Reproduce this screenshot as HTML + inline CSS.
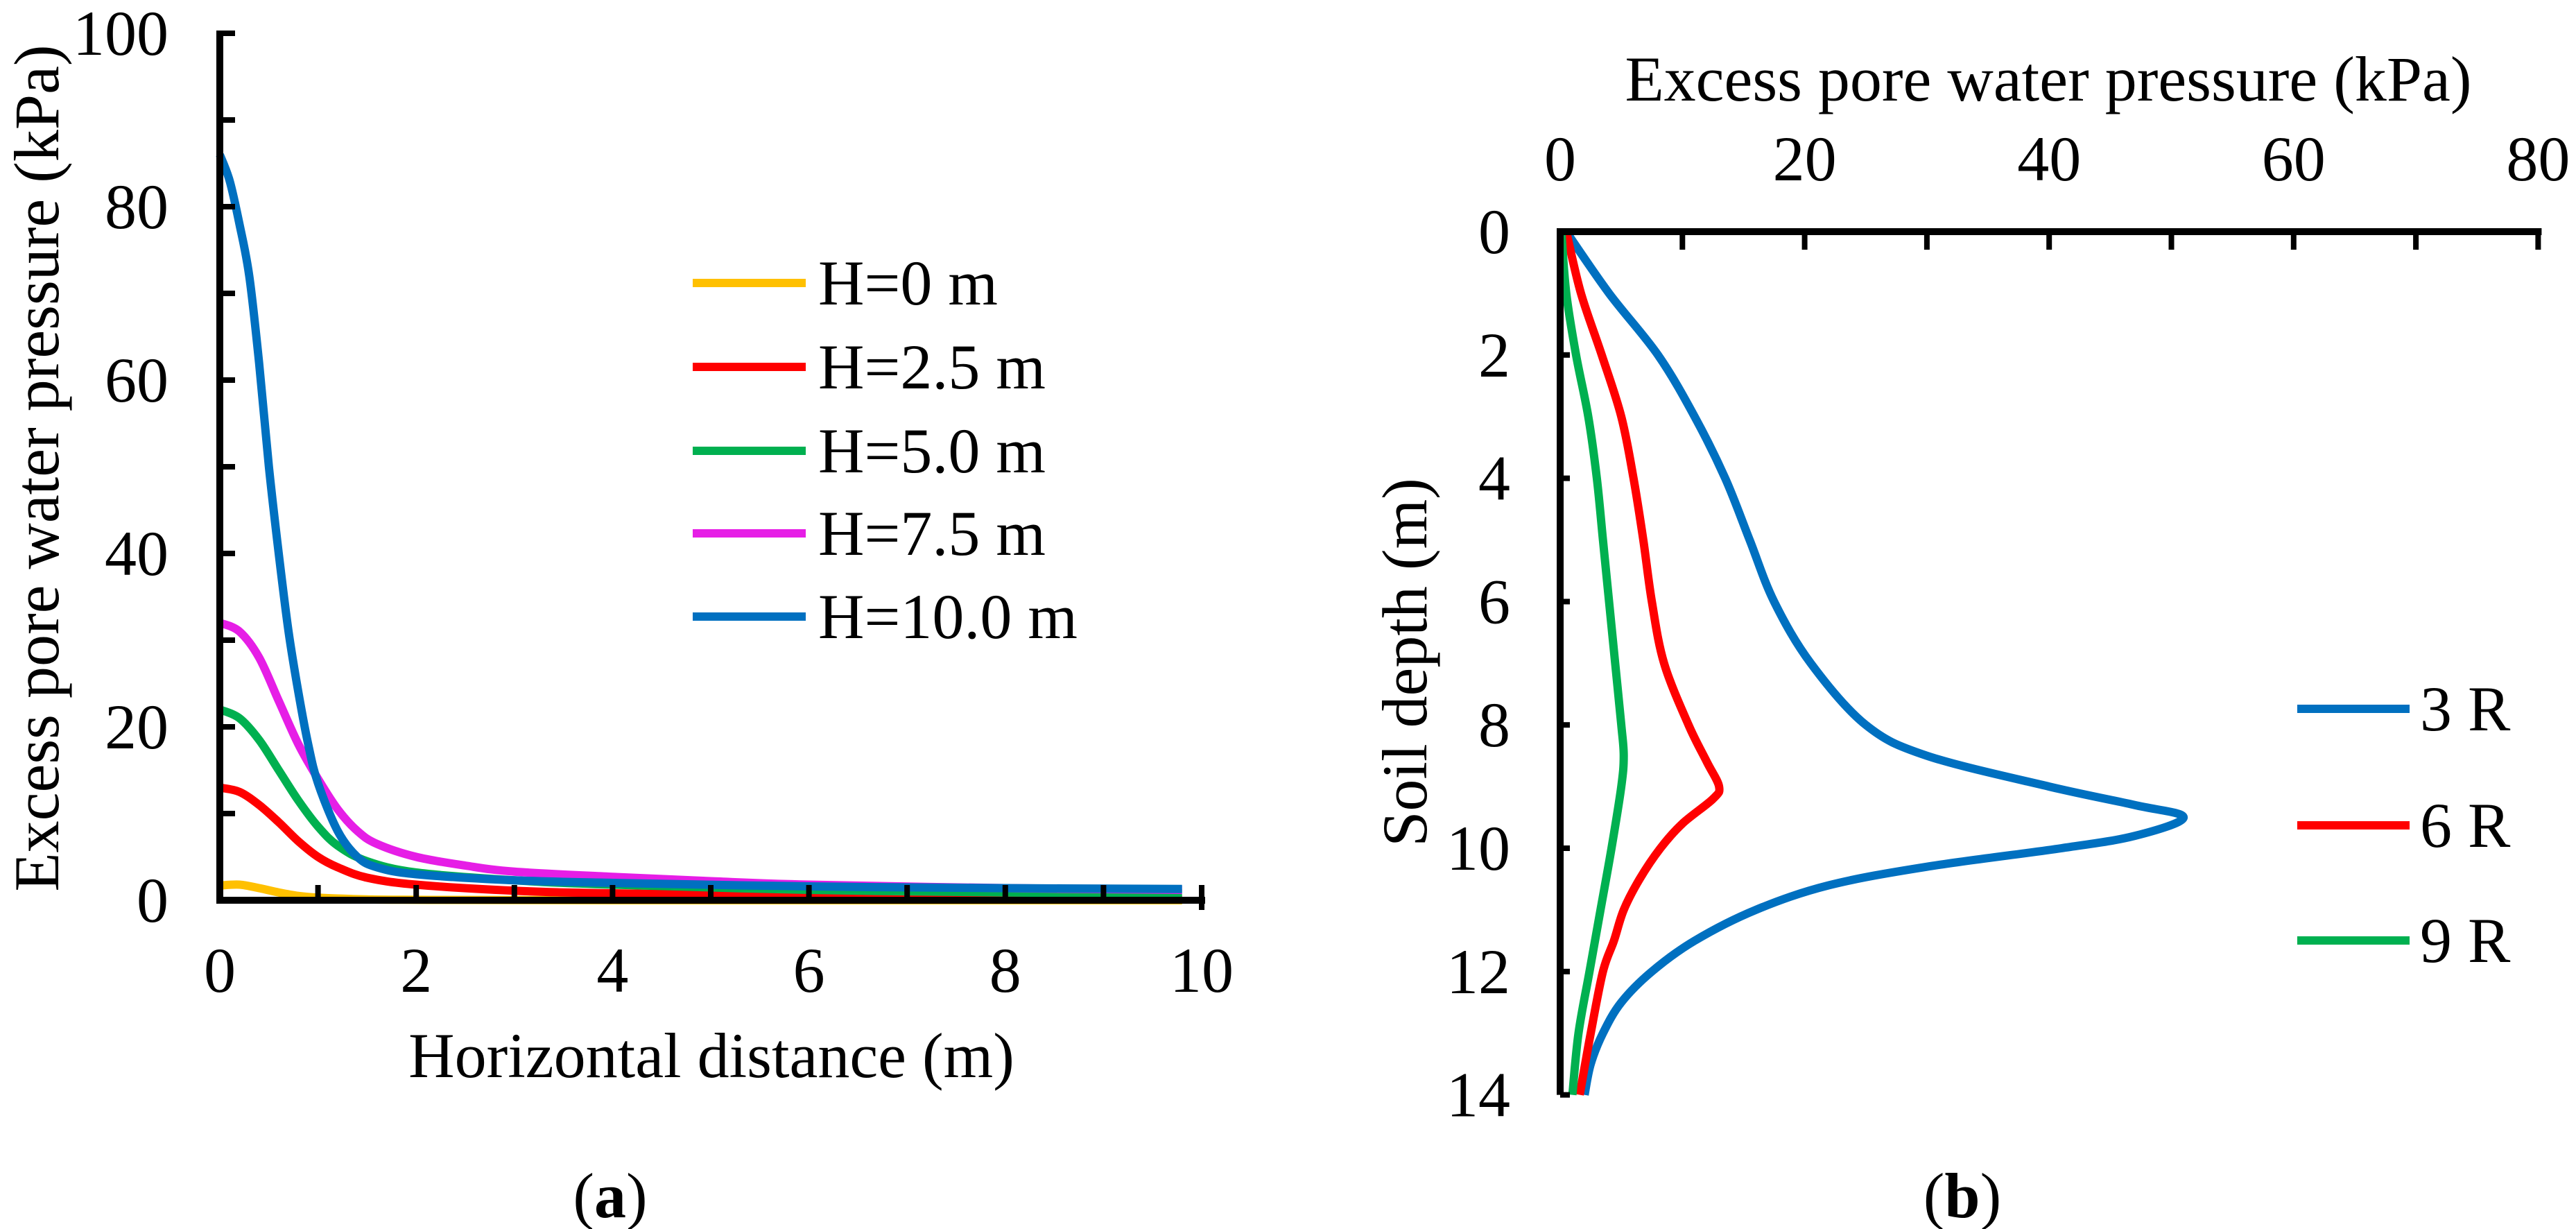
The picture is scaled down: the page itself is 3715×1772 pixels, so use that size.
<!DOCTYPE html>
<html><head><meta charset="utf-8"><style>
html,body{margin:0;padding:0;background:#fff}
svg{display:block;font-family:"Liberation Serif","Times New Roman",serif}
text{font-family:"Liberation Serif","Times New Roman",serif;fill:#000}
</style></head><body>
<svg id="svg" width="3715" height="1772" xmlns="http://www.w3.org/2000/svg" font-family="Liberation Serif, serif">
<g id="ga"></g>
<g id="gb"></g>
</svg>
<script>
// ---- Chart (a) data ----
const aXTicks = [0, 2, 4, 6, 8, 10];
const aYTicks = [0, 20, 40, 60, 80, 100];
const aNames = ["H=0 m", "H=2.5 m", "H=5.0 m", "H=7.5 m", "H=10.0 m"];
const aColors = ["#ffc000", "#ff0000", "#00b050", "#e61ee6", "#0070c0"];
const aX0 = [0,0.2,0.4,0.6,0.8,1,1.5,2,4,9.8];
const aY0 = [1.7,1.8,1.4,0.9,0.5,0.3,0.1,0.05,0,0];
const aX25 = [0,0.2,0.4,0.6,0.8,1,1.2,1.5,2,3,4,6,8,9.8];
const aY25 = [13,12.5,11,9,6.8,5,3.8,2.6,1.8,1.1,0.8,0.5,0.3,0.2];
const aX50 = [0,0.2,0.4,0.6,0.8,1,1.2,1.5,2,3,4,6,8,9.8];
const aY50 = [22,21,18.5,15,11.5,8.5,6.3,4.5,3.2,2.3,1.8,1.2,0.9,0.8];
const aX75 = [0,0.2,0.4,0.6,0.8,1,1.2,1.4,1.6,2,2.5,3,4,5,6,8,9.8];
const aY75 = [32,31,28,23,18,14,10.5,8,6.5,5,4,3.3,2.7,2.2,1.8,1.4,1.2];
const aX100 = [0,0.1,0.2,0.3,0.4,0.5,0.6,0.7,0.8,0.9,1,1.2,1.4,1.6,2,3,4,6,8,9.8];
const aY100 = [86,83,78,72,62,50,40,31,24,18,13.5,8,5,3.8,3,2.3,2,1.6,1.4,1.3];
// ---- Chart (b) data ----
const bXTicks = [0, 20, 40, 60, 80];
const bYTicks = [0, 2, 4, 6, 8, 10, 12, 14];
const bNames = ["3 R", "6 R", "9 R"];
const bColors = ["#0070c0", "#ff0000", "#00b050"];
const bD3 = [0,1,2,3,4,5,6,7,8,8.5,9,9.3,9.5,9.8,10,10.3,10.6,11,11.5,12,12.5,13,13.5,14];
const bP3 = [0.5,4,8,11,13.5,15.5,17.5,20.5,25,30,40,47,51,47,41,30,22,16,11,7.5,5,3.5,2.5,2];
const bD6 = [0,1,2,3,4,5,6,7,8,8.6,9,9.2,9.6,10,10.5,11,11.5,12,13,14];
const bP6 = [0.5,1.7,3.4,5,6,6.8,7.5,8.5,10.5,12,13,12.5,10,8.2,6.5,5.2,4.4,3.5,2.5,1.6];
const bD9 = [0,1,2,3,4,5,6,7,8,8.5,9,10,11,12,13,14];
const bP9 = [0.1,0.5,1.3,2.3,3,3.5,4,4.5,5,5.2,5,4.2,3.3,2.4,1.5,1];

const NS="http://www.w3.org/2000/svg";
const FF='Liberation Serif, Times New Roman, serif';
function mk(tag, parent, attrs){const e=document.createElementNS(NS,tag);for(const k in attrs)e.setAttribute(k,attrs[k]);if(tag==='text')e.setAttribute('font-family',FF);parent.appendChild(e);return e;}
function smooth(pts){let d="M"+pts[0][0]+","+pts[0][1];for(let i=0;i<pts.length-1;i++){const p0=pts[i-1]||pts[i],p1=pts[i],p2=pts[i+1],p3=pts[i+2]||p2;const c1x=p1[0]+(p2[0]-p0[0])/6,c1y=p1[1]+(p2[1]-p0[1])/6,c2x=p2[0]-(p3[0]-p1[0])/6,c2y=p2[1]-(p3[1]-p1[1])/6;d+=" C"+c1x+","+c1y+" "+c2x+","+c2y+" "+p2[0]+","+p2[1];}return d;}

// ===== Chart A =====
const ga=document.getElementById('ga');
const ax=v=>317+v*141.6, ay=v=>1298-v*12.5;
const aSeriesX=[aX0,aX25,aX50,aX75,aX100], aSeriesY=[aY0,aY25,aY50,aY75,aY100];
aSeriesX.forEach((xs,s)=>{
  const p=mk('path',ga,{d:smooth(xs.map((x,i)=>[ax(x),ay(aSeriesY[s][i])])),fill:'none',stroke:aColors[s],'stroke-width':12,'stroke-linejoin':'round'});
  
  
});
let e=mk('line',ga,{x1:ax(0),y1:ay(100)-4,x2:ax(0),y2:ay(0)+5,stroke:'#000','stroke-width':10});

e=mk('line',ga,{x1:ax(0)-5,y1:ay(0),x2:ax(10)+5,y2:ay(0),stroke:'#000','stroke-width':10});

for(let v=0;v<=100;v+=10){mk('line',ga,{x1:ax(0),y1:ay(v),x2:ax(0)+22,y2:ay(v),stroke:'#000','stroke-width':8});}
for(let v=1;v<=10;v++){mk('line',ga,{x1:ax(v),y1:ay(0),x2:ax(v),y2:ay(0)-22,stroke:'#000','stroke-width':8});}
mk('line',ga,{x1:ax(10),y1:ay(0),x2:ax(10),y2:ay(0)+14,stroke:'#000','stroke-width':8});
aYTicks.forEach(v=>{const t=mk('text',ga,{x:243,y:ay(v)+31,'font-size':92,'text-anchor':'end'});t.textContent=v;
 });
aXTicks.forEach(v=>{const t=mk('text',ga,{x:ax(v),y:1430,'font-size':92,'text-anchor':'middle'});t.textContent=v;
 });
e=mk('text',ga,{x:1026,y:1553,'font-size':92,'text-anchor':'middle'});e.textContent='Horizontal distance (m)';

e=mk('text',ga,{x:0,y:0,'font-size':92,'text-anchor':'middle',transform:'translate(84,675) rotate(-90)'});e.textContent='Excess pore water pressure (kPa)';

const aLegY=[408,529,650,769,889];
aNames.forEach((n,i)=>{
  const g=mk('g',ga,{});
  
  mk('line',g,{x1:999,y1:aLegY[i],x2:1162,y2:aLegY[i],stroke:aColors[i],'stroke-width':12});
  const t=mk('text',g,{x:1180,y:aLegY[i]+31,'font-size':92});t.textContent=n;
});
e=mk('text',ga,{x:880,y:1755,'font-size':92,'text-anchor':'middle'});e.innerHTML='(<tspan font-weight="bold">a</tspan>)';


// ===== Chart B =====
const gb=document.getElementById('gb');
const bx=v=>2250+v*17.63, by=v=>334+v*88.9;
const bSeriesD=[bD3,bD6,bD9], bSeriesP=[bP3,bP6,bP9];
bSeriesD.forEach((ds,s)=>{
  const p=mk('path',gb,{d:smooth(ds.map((d,i)=>[bx(bSeriesP[s][i]),by(d)])),fill:'none',stroke:bColors[s],'stroke-width':12,'stroke-linejoin':'round'});
  
  
});
e=mk('line',gb,{x1:bx(0),y1:by(0)-5,x2:bx(0),y2:by(14),stroke:'#000','stroke-width':10});

e=mk('line',gb,{x1:bx(0)-5,y1:by(0),x2:bx(80)+5,y2:by(0),stroke:'#000','stroke-width':10});

for(let v=10;v<=80;v+=10){mk('line',gb,{x1:bx(v),y1:by(0),x2:bx(v),y2:by(0)+26,stroke:'#000','stroke-width':8});}
for(let v=2;v<=14;v+=2){mk('line',gb,{x1:bx(0),y1:by(v),x2:bx(0)+14,y2:by(v),stroke:'#000','stroke-width':8});}
bYTicks.forEach(v=>{const t=mk('text',gb,{x:2178,y:by(v)+31,'font-size':92,'text-anchor':'end'});t.textContent=v;
 });
bXTicks.forEach(v=>{const t=mk('text',gb,{x:bx(v),y:260,'font-size':92,'text-anchor':'middle'});t.textContent=v;
 });
e=mk('text',gb,{x:2954,y:145,'font-size':92,'text-anchor':'middle'});e.textContent='Excess pore water pressure (kPa)';

e=mk('text',gb,{x:0,y:0,'font-size':92,'text-anchor':'middle',transform:'translate(2057,955) rotate(-90)'});e.textContent='Soil depth (m)';

const bLegY=[1022,1190,1356];
bNames.forEach((n,i)=>{
  const g=mk('g',gb,{});
  
  mk('line',g,{x1:3313,y1:bLegY[i],x2:3475,y2:bLegY[i],stroke:bColors[i],'stroke-width':12});
  const t=mk('text',g,{x:3490,y:bLegY[i]+31,'font-size':92});t.textContent=n;
});
e=mk('text',gb,{x:2830,y:1755,'font-size':92,'text-anchor':'middle'});e.innerHTML='(<tspan font-weight="bold">b</tspan>)';

</script>
</body></html>
